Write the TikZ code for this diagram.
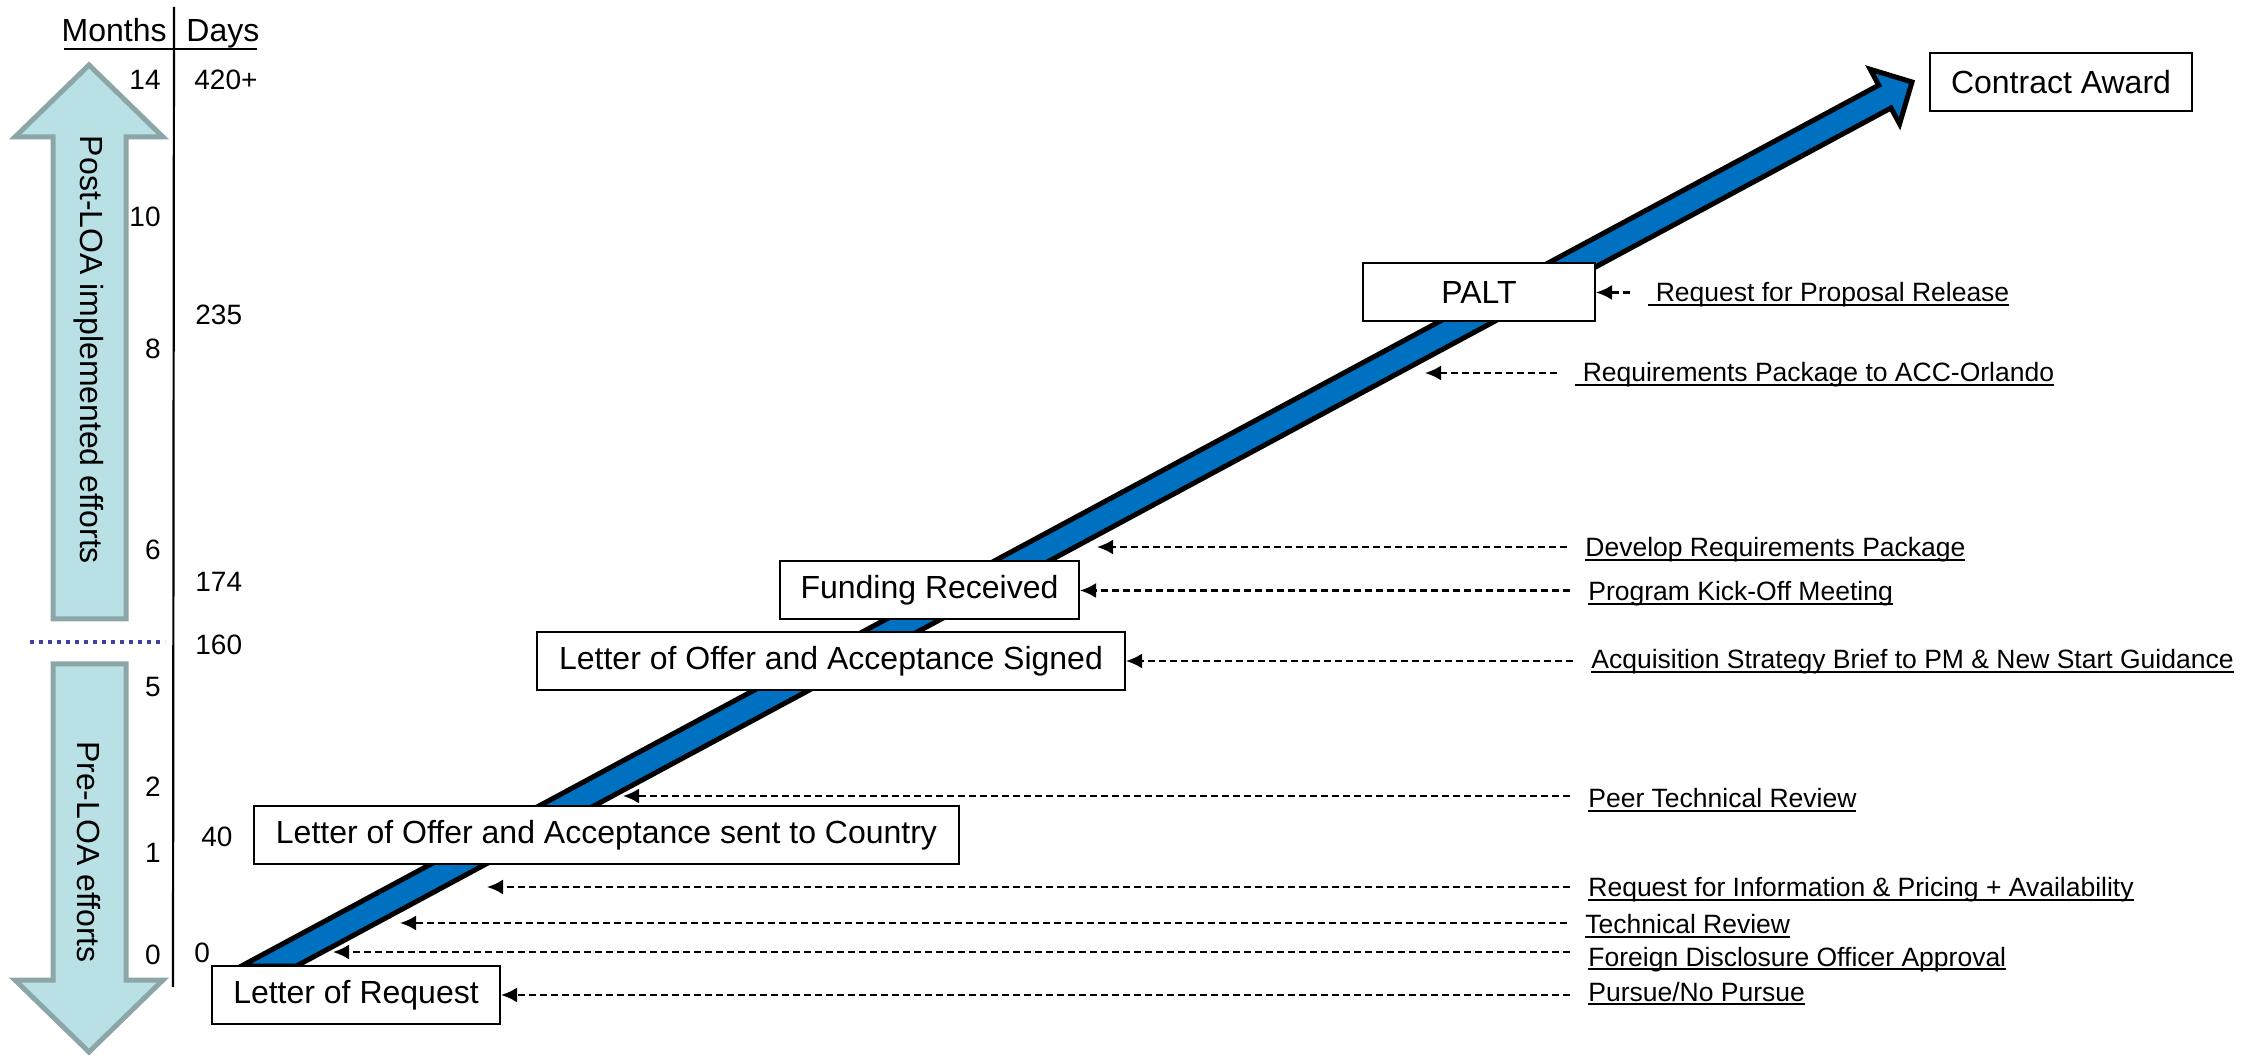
\documentclass[tikz,border=0pt]{standalone}
\usepackage{fontspec}
\setmainfont{Liberation Sans}
\usetikzlibrary{arrows.meta}

\definecolor{loablue}{RGB}{0,112,192}
\definecolor{phasefill}{RGB}{185,224,228}
\definecolor{phaseline}{RGB}{140,166,168}
\definecolor{splitline}{RGB}{64,64,160}

% underline at a fixed depth
\newcommand{\uln}[1]{\setbox0\hbox{#1}\rlap{\rule[-1.8pt]{\wd0}{0.8pt}}\box0}

\tikzset{
  stage/.style={draw, line width=1pt, fill=white, minimum height=29pt, inner sep=0pt, font=\fontsize{16}{19}\selectfont},
  note/.style={anchor=base west, inner sep=0pt, font=\fontsize{13.25}{16}\selectfont},
  noteline/.style={line width=1.15pt, dash pattern=on 3.5pt off 2pt, -{Latex[length=8pt,width=7.5pt]}, shorten <=9pt},
  tick/.style={inner sep=0pt, font=\fontsize{14}{17}\selectfont},
  heading/.style={inner sep=0pt, font=\fontsize{16}{19}\selectfont},
  phase/.style={fill=phasefill, draw=phaseline, line width=2.5pt, line join=miter},
  phasetext/.style={inner sep=0pt, rotate=-90, font=\fontsize{16}{19}\selectfont},
  loaarrow/.style={fill=loablue, draw=black, line width=2.5pt, line join=miter}
}

\begin{document}
\begin{tikzpicture}[x=0.5pt,y=0.5pt,yscale=-1,xscale=1]
\useasboundingbox (0,0) rectangle (2251,1058);

%Axis
\draw [line width=1.1pt] (174,7) -- (173,987) ;
\draw [line width=1.1pt] (64,49) -- (257,49) ;
% Text Node
\node [heading, anchor=base east] (months) at (167,42) {Months};
\node [heading, anchor=base west] (days) at (186,42) {Days};

%Shape: Up Arrow
\draw [phase] (89,65) -- (163,137) -- (126,137) -- (126,619) -- (53,619) -- (53,137) -- (15,137) -- cycle ;
%Shape: Down Arrow
\draw [phase] (53,664) -- (126,664) -- (126,980) -- (163,980) -- (89,1052) -- (15,980) -- (53,980) -- cycle ;
% Text Node
\node [phasetext] (post) at (89,350) {Post-LOA implemented efforts};
\node [phasetext] (pre) at (89,852) {Pre-LOA efforts};
%Straight Lines
\draw [splitline, line width=2pt, dash pattern=on 2pt off 2.5pt] (30,642) -- (165,642) ;

% Months
\node [tick, anchor=east] (m14) at (161,80) {14};
\node [tick, anchor=east] (m10) at (161,217) {10};
\node [tick, anchor=east] (m8) at (161,349) {8};
\node [tick, anchor=east] (m6) at (161,550) {6};
\node [tick, anchor=east] (m5) at (161,687) {5};
\node [tick, anchor=east] (m2) at (161,787) {2};
\node [tick, anchor=east] (m1) at (161,853) {1};
\node [tick, anchor=east] (m0) at (161,955) {0};
% Days
\node [tick, anchor=west] (d420) at (194,80) {420+};
\node [tick, anchor=west] (d235) at (195,315) {235};
\node [tick, anchor=west] (d174) at (195,582) {174};
\node [tick, anchor=west] (d160) at (195,645) {160};
\node [tick, anchor=west] (d40) at (201,837) {40};
\node [tick, anchor=west] (d0) at (194,953) {0};

%Shape: Block Arc Arrow
\draw [loaarrow] (241.5,966) -- (1878.7,85.2) -- (1870.2,69.3) -- (1912,82) -- (1899.6,123.9) -- (1891,108) -- (296.5,966) -- cycle ;

%Shape: Rectangle
\node [stage, minimum width=144pt] (lor) at (356,995) {Letter of Request};
\node [stage, minimum width=352.5pt] (loasent) at (606.5,835) {Letter of Offer and Acceptance sent to Country};
\node [stage, minimum width=294pt] (loasigned) at (831,661) {Letter of Offer and Acceptance Signed};
\node [stage, minimum width=149.5pt] (funding) at (929.5,590.5) {Funding Received};
\node [stage, minimum width=116pt] (palt) at (1479,292.5) {PALT};
\node [stage, minimum width=131pt] (award) at (2061,82) {Contract Award};

% points on the arrow
\coordinate (accpt) at (1425,373);
\coordinate (devpt) at (1097,547);
\coordinate (peerpt) at (623,796);
\coordinate (rfipt) at (487,887);
\coordinate (techpt) at (400,923);
\coordinate (fdopt) at (333,952);

% Text Node
\node [note] (rfp) at (1648,302) {\uln{\ Request for Proposal Release}};
\node [note] (acc) at (1575,382) {\uln{\ Requirements Package to ACC-Orlando}};
\node [note] (dev) at (1585,557) {\uln{Develop Requirements Package}};
\node [note] (kickoff) at (1588,601) {\uln{Program Kick-Off Meeting}};
\node [note] (asb) at (1591,669) {\uln{Acquisition Strategy Brief to PM \& New Start Guidance}};
\node [note] (peer) at (1588,808) {\uln{Peer Technical Review}};
\node [note] (rfi) at (1588,897) {\uln{Request for Information \& Pricing + Availability}};
\node [note] (tech) at (1585,934) {\uln{Technical Review}};
\node [note] (fdo) at (1588,966) {\uln{Foreign Disclosure Officer Approval}};
\node [note] (pursue) at (1588,1001) {\uln{Pursue/No Pursue}};

%Straight Lines
\draw [noteline] (rfp.west |- palt.east) -- (palt.east) ;
\draw [noteline] (acc.west |- accpt) -- (accpt) ;
\draw [noteline] (dev.west |- devpt) -- (devpt) ;
\draw [noteline] (kickoff.west |- funding.east) -- (funding.east) ;
\draw [noteline] (asb.west |- loasigned.east) -- (loasigned.east) ;
\draw [noteline] (peer.west |- peerpt) -- (peerpt) ;
\draw [noteline] (rfi.west |- rfipt) -- (rfipt) ;
\draw [noteline] (tech.west |- techpt) -- (techpt) ;
\draw [noteline] (fdo.west |- fdopt) -- (fdopt) ;
\draw [noteline] (pursue.west |- lor.east) -- (lor.east) ;

\end{tikzpicture}
\end{document}
